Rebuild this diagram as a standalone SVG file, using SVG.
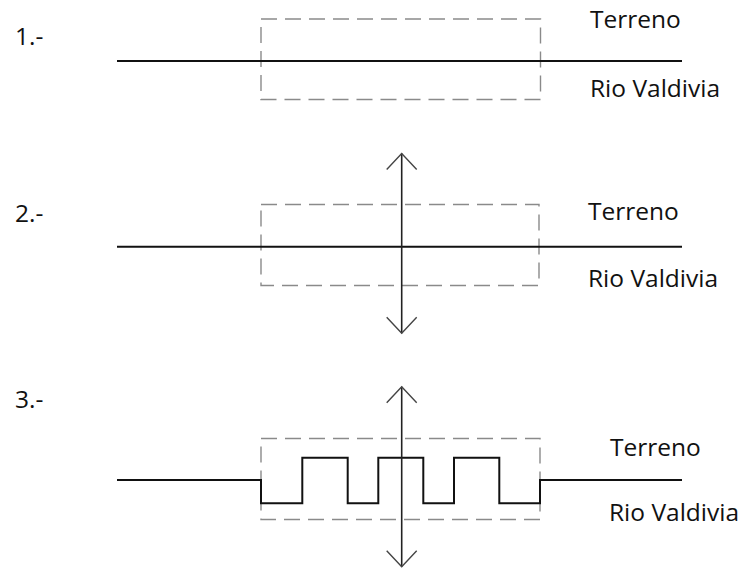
<svg xmlns="http://www.w3.org/2000/svg" width="748" height="569" viewBox="0 0 748 569">
<style>
.t{font-family:"Open Sans","Liberation Sans",sans-serif;font-size:24.5px;fill:#111}
.box{fill:none;stroke:#8a8a8a;stroke-width:1.4;stroke-dasharray:16 8}
.ln{fill:none;stroke:#111;stroke-width:2}
.ax{fill:none;stroke:#222;stroke-width:1.6}
.ah{fill:none;stroke:#444;stroke-width:1.4}
</style>
<rect width="748" height="569" fill="#fff"/>
<g id="panel1">
<text class="t" x="15" y="45">1.-</text>
<rect class="box" x="261" y="19" width="279.5" height="80.5"/>
<text class="t" x="590" y="28">Terreno</text>
<text class="t" x="590" y="96.5">Rio Valdivia</text>
</g>
<g id="panel2">
<text class="t" x="15" y="222">2.-</text>
<rect class="box" x="261" y="204.5" width="278" height="81"/>
<text class="t" x="588" y="219.5">Terreno</text>
<text class="t" x="588" y="287">Rio Valdivia</text>
</g>
<g id="panel3">
<text class="t" x="15" y="408">3.-</text>
<rect class="box" x="261" y="438.5" width="279" height="81"/>
<text class="t" x="610" y="455.5">Terreno</text>
<text class="t" x="609" y="521">Rio Valdivia</text>
</g>
<g id="connectors">
<line class="ln" x1="117" y1="61" x2="682" y2="61"/>
<line class="ln" x1="117" y1="246.7" x2="682" y2="246.7"/>
<line class="ax" x1="401.7" y1="153.5" x2="401.7" y2="333.3"/>
<polyline class="ah" points="386.7,169.5 401.7,153.5 416.7,169.5"/>
<polyline class="ah" points="386.7,317.3 401.7,333.3 416.7,317.3"/>
<polyline class="ln" points="117,480 261,480 261,503.3 302.3,503.3 302.3,457.7 347.7,457.7 347.7,503.3 378.3,503.3 378.3,457.7 423.3,457.7 423.3,503.3 454,503.3 454,457.7 499.3,457.7 499.3,503.3 540,503.3 540,480 682,480"/>
<line class="ax" x1="401.7" y1="386.7" x2="401.7" y2="566.7"/>
<polyline class="ah" points="386.7,402.7 401.7,386.7 416.7,402.7"/>
<polyline class="ah" points="386.7,550.7 401.7,566.7 416.7,550.7"/>
</g>
</svg>
